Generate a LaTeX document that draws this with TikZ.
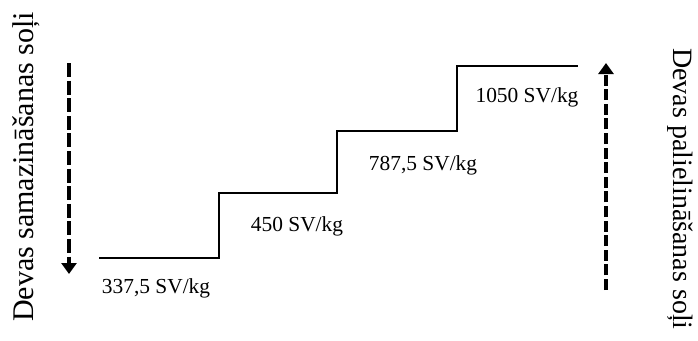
\documentclass[tikz,border=0pt]{standalone}
\usepackage{fontspec}
\setmainfont{Liberation Serif}
\usetikzlibrary{arrows.meta}
\begin{document}
\begin{tikzpicture}[x=1pt,y=-1pt,
  stair/.style={line width=2.9pt,line join=miter},
  flow/.style={line width=3.4pt,-{Triangle[width=15pt,length=11pt]}},
  price/.style={inner sep=0pt,font=\fontsize{21.4}{25}\selectfont},
  side/.style={inner sep=0pt,font=\fontsize{30}{36}\selectfont}]
\useasboundingbox (0,0) rectangle (698,340);
% staircase outline
\coordinate (s0) at (99,258);
\coordinate (s1) at (219,258);
\coordinate (s2) at (219,193);
\coordinate (s3) at (337,193);
\coordinate (s4) at (337,131);
\coordinate (s5) at (457,131);
\coordinate (s6) at (457,66);
\coordinate (s7) at (578,66);
\draw[stair] (s0) -- (s1) -- (s2) -- (s3) -- (s4) -- (s5) -- (s6) -- (s7);
% step labels
\node[price] (p1) at (156,288) {337,5 SV/kg};
\node[price] (p2) at (297,226) {450 SV/kg};
\node[price] (p3) at (423,165) {787,5 SV/kg};
\node[price] (p4) at (527,97) {1050 SV/kg};
% direction arrows
\coordinate (dTop) at (69,63);
\coordinate (dBot) at (69,274);
\coordinate (uBot) at (606,290);
\coordinate (uTop) at (606,63);
\draw[flow,dash pattern=on 14pt off 3.6pt] (dTop) -- (dBot);
\draw[flow,dash pattern=on 11pt off 3.6pt] (uBot) -- (uTop);
% side captions
\node[side,rotate=90] (ls) at (26,167) {Devas samazināšanas soļi};
\node[side,rotate=-90,anchor=west,font=\fontsize{28}{33}\selectfont] (rs) at (680,48) {Devas palielināšanas soļi};
\end{tikzpicture}
\end{document}
